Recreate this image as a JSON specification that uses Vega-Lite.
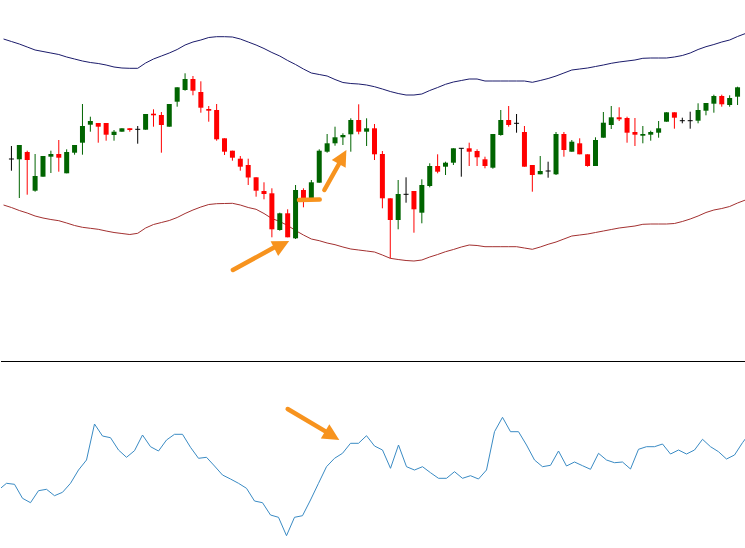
{
  "$schema": "https://vega.github.io/schema/vega-lite/v6.json",
  "padding": 0,
  "spacing": 0,
  "background": "white",
  "config": {"view": {"stroke": null}, "axis": {"disable": true}, "legend": {"disable": true}},
  "datasets": {
    "candles": [
      {"i":0,"open":1.3841,"high":1.3854,"low":1.38293,"close":1.3841},
      {"i":1,"open":1.38407,"high":1.3855,"low":1.3802,"close":1.3855},
      {"i":2,"open":1.3848,"high":1.38493,"low":1.38053,"close":1.384},
      {"i":3,"open":1.38093,"high":1.3846,"low":1.38083,"close":1.3824},
      {"i":4,"open":1.38233,"high":1.3844,"low":1.38233,"close":1.3844},
      {"i":5,"open":1.38433,"high":1.38493,"low":1.3827,"close":1.3846},
      {"i":6,"open":1.3846,"high":1.386,"low":1.38283,"close":1.38423},
      {"i":7,"open":1.38267,"high":1.38507,"low":1.38267,"close":1.3848},
      {"i":8,"open":1.38473,"high":1.3855,"low":1.38453,"close":1.3855},
      {"i":9,"open":1.38573,"high":1.3896,"low":1.38453,"close":1.3874},
      {"i":10,"open":1.38753,"high":1.38833,"low":1.38683,"close":1.3879},
      {"i":11,"open":1.3877,"high":1.3877,"low":1.38573,"close":1.38733},
      {"i":12,"open":1.3877,"high":1.3877,"low":1.38593,"close":1.38653},
      {"i":13,"open":1.3865,"high":1.387,"low":1.38593,"close":1.38683},
      {"i":14,"open":1.38683,"high":1.38717,"low":1.38683,"close":1.38717},
      {"i":15,"open":1.38717,"high":1.38717,"low":1.38683,"close":1.387},
      {"i":16,"open":1.38707,"high":1.3874,"low":1.38563,"close":1.38707},
      {"i":17,"open":1.38703,"high":1.3886,"low":1.38703,"close":1.3886},
      {"i":18,"open":1.38863,"high":1.38907,"low":1.38733,"close":1.38847},
      {"i":19,"open":1.3885,"high":1.3888,"low":1.38473,"close":1.3875},
      {"i":20,"open":1.38733,"high":1.3896,"low":1.38733,"close":1.3896},
      {"i":21,"open":1.38983,"high":1.39127,"low":1.38933,"close":1.39127},
      {"i":22,"open":1.391,"high":1.39267,"low":1.39093,"close":1.3921},
      {"i":23,"open":1.3921,"high":1.3924,"low":1.39047,"close":1.39093},
      {"i":24,"open":1.3908,"high":1.39187,"low":1.38873,"close":1.38923},
      {"i":25,"open":1.3891,"high":1.3894,"low":1.38783,"close":1.38893},
      {"i":26,"open":1.389,"high":1.3896,"low":1.38593,"close":1.38607},
      {"i":27,"open":1.38617,"high":1.38617,"low":1.3845,"close":1.38483},
      {"i":28,"open":1.38493,"high":1.38493,"low":1.38393,"close":1.38423},
      {"i":29,"open":1.38413,"high":1.3844,"low":1.38293,"close":1.38333},
      {"i":30,"open":1.3835,"high":1.38413,"low":1.3815,"close":1.38225},
      {"i":31,"open":1.38227,"high":1.38227,"low":1.38033,"close":1.38093},
      {"i":32,"open":1.3809,"high":1.38177,"low":1.38007,"close":1.3806},
      {"i":33,"open":1.38067,"high":1.38117,"low":1.37627,"close":1.37707},
      {"i":34,"open":1.377,"high":1.37873,"low":1.37693,"close":1.37867},
      {"i":35,"open":1.37867,"high":1.37907,"low":1.37627,"close":1.37627},
      {"i":36,"open":1.37617,"high":1.3815,"low":1.3761,"close":1.381},
      {"i":37,"open":1.381,"high":1.38117,"low":1.37927,"close":1.38017},
      {"i":38,"open":1.38017,"high":1.382,"low":1.38017,"close":1.38177},
      {"i":39,"open":1.38173,"high":1.38507,"low":1.38173,"close":1.38493},
      {"i":40,"open":1.38483,"high":1.3866,"low":1.38473,"close":1.38567},
      {"i":41,"open":1.38567,"high":1.38733,"low":1.38543,"close":1.38627},
      {"i":42,"open":1.38627,"high":1.38667,"low":1.3855,"close":1.3865},
      {"i":43,"open":1.38657,"high":1.38817,"low":1.38483,"close":1.388},
      {"i":44,"open":1.388,"high":1.38957,"low":1.38657,"close":1.38683},
      {"i":45,"open":1.38683,"high":1.38817,"low":1.3854,"close":1.38717},
      {"i":46,"open":1.38717,"high":1.3876,"low":1.384,"close":1.38457},
      {"i":47,"open":1.3846,"high":1.3849,"low":1.37917,"close":1.38017},
      {"i":48,"open":1.38017,"high":1.38017,"low":1.37417,"close":1.378},
      {"i":49,"open":1.378,"high":1.382,"low":1.37707,"close":1.3806},
      {"i":50,"open":1.38057,"high":1.38227,"low":1.37973,"close":1.38057},
      {"i":51,"open":1.3809,"high":1.3809,"low":1.37673,"close":1.37907},
      {"i":52,"open":1.37873,"high":1.38207,"low":1.37767,"close":1.3815},
      {"i":53,"open":1.3814,"high":1.38367,"low":1.38127,"close":1.3834},
      {"i":54,"open":1.3834,"high":1.38457,"low":1.38267,"close":1.38283},
      {"i":55,"open":1.38333,"high":1.38383,"low":1.3825,"close":1.38373},
      {"i":56,"open":1.38373,"high":1.38517,"low":1.3835,"close":1.38517},
      {"i":57,"open":1.38517,"high":1.38517,"low":1.38233,"close":1.38517},
      {"i":58,"open":1.38517,"high":1.38573,"low":1.3834,"close":1.38483},
      {"i":59,"open":1.3849,"high":1.38507,"low":1.3834,"close":1.38427},
      {"i":60,"open":1.38407,"high":1.38433,"low":1.38317,"close":1.3834},
      {"i":61,"open":1.38323,"high":1.3866,"low":1.38313,"close":1.3866},
      {"i":62,"open":1.3865,"high":1.389,"low":1.38643,"close":1.388},
      {"i":63,"open":1.388,"high":1.3894,"low":1.38733,"close":1.3875},
      {"i":64,"open":1.38767,"high":1.3886,"low":1.38673,"close":1.38767},
      {"i":65,"open":1.3868,"high":1.3874,"low":1.38333,"close":1.38333},
      {"i":66,"open":1.3835,"high":1.3835,"low":1.38083,"close":1.3825},
      {"i":67,"open":1.38257,"high":1.3844,"low":1.38257,"close":1.3829},
      {"i":68,"open":1.3829,"high":1.38383,"low":1.38223,"close":1.3829},
      {"i":69,"open":1.38257,"high":1.3868,"low":1.3825,"close":1.3866},
      {"i":70,"open":1.3866,"high":1.3868,"low":1.38433,"close":1.385},
      {"i":71,"open":1.38483,"high":1.386,"low":1.38483,"close":1.38583},
      {"i":72,"open":1.38567,"high":1.38617,"low":1.38457,"close":1.38457},
      {"i":73,"open":1.38457,"high":1.38457,"low":1.38333,"close":1.3834},
      {"i":74,"open":1.3834,"high":1.38627,"low":1.3834,"close":1.386},
      {"i":75,"open":1.38623,"high":1.3888,"low":1.38623,"close":1.38773},
      {"i":76,"open":1.3875,"high":1.3894,"low":1.3871,"close":1.38827},
      {"i":77,"open":1.38827,"high":1.38927,"low":1.3879,"close":1.38807},
      {"i":78,"open":1.3882,"high":1.38833,"low":1.38573,"close":1.38673},
      {"i":79,"open":1.3868,"high":1.3882,"low":1.3854,"close":1.38653},
      {"i":80,"open":1.38643,"high":1.3874,"low":1.38567,"close":1.3866},
      {"i":81,"open":1.38653,"high":1.38693,"low":1.38593,"close":1.3868},
      {"i":82,"open":1.38673,"high":1.3879,"low":1.38623,"close":1.38717},
      {"i":83,"open":1.38783,"high":1.38877,"low":1.38783,"close":1.38877},
      {"i":84,"open":1.38877,"high":1.38877,"low":1.38713,"close":1.38823},
      {"i":85,"open":1.38793,"high":1.38823,"low":1.38767,"close":1.38793},
      {"i":86,"open":1.38793,"high":1.38883,"low":1.38713,"close":1.38793},
      {"i":87,"open":1.38793,"high":1.38967,"low":1.38767,"close":1.389},
      {"i":88,"open":1.38893,"high":1.3897,"low":1.38847,"close":1.3897},
      {"i":89,"open":1.38963,"high":1.39053,"low":1.38873,"close":1.3904},
      {"i":90,"open":1.3904,"high":1.39053,"low":1.38933,"close":1.38957},
      {"i":91,"open":1.3895,"high":1.39047,"low":1.38933,"close":1.3902},
      {"i":92,"open":1.39033,"high":1.39133,"low":1.3895,"close":1.39127}
    ],
    "bands": [
      {"i":-1,"upper":1.3961,"lower":1.3795},
      {"i":0,"upper":1.39585,"lower":1.37925},
      {"i":1,"upper":1.3956,"lower":1.37895},
      {"i":2,"upper":1.3953,"lower":1.3787},
      {"i":3,"upper":1.395,"lower":1.3784},
      {"i":4,"upper":1.39485,"lower":1.3782},
      {"i":5,"upper":1.3947,"lower":1.37805},
      {"i":6,"upper":1.39455,"lower":1.37793},
      {"i":7,"upper":1.3943,"lower":1.3777},
      {"i":8,"upper":1.3941,"lower":1.37745},
      {"i":9,"upper":1.3939,"lower":1.37727},
      {"i":10,"upper":1.39375,"lower":1.37717},
      {"i":11,"upper":1.39365,"lower":1.37707},
      {"i":12,"upper":1.3935,"lower":1.3769},
      {"i":13,"upper":1.3933,"lower":1.37675},
      {"i":14,"upper":1.3932,"lower":1.37665},
      {"i":15,"upper":1.39317,"lower":1.37655},
      {"i":16,"upper":1.39317,"lower":1.37667},
      {"i":17,"upper":1.3937,"lower":1.3772},
      {"i":18,"upper":1.3941,"lower":1.37755},
      {"i":19,"upper":1.3944,"lower":1.37775},
      {"i":20,"upper":1.3947,"lower":1.37795},
      {"i":21,"upper":1.39505,"lower":1.37825},
      {"i":22,"upper":1.3955,"lower":1.37865},
      {"i":23,"upper":1.3958,"lower":1.379},
      {"i":24,"upper":1.396,"lower":1.3793},
      {"i":25,"upper":1.39625,"lower":1.37955},
      {"i":26,"upper":1.39633,"lower":1.37963},
      {"i":27,"upper":1.39633,"lower":1.37965},
      {"i":28,"upper":1.3963,"lower":1.37967},
      {"i":29,"upper":1.3961,"lower":1.3795},
      {"i":30,"upper":1.3958,"lower":1.37925},
      {"i":31,"upper":1.3955,"lower":1.37907},
      {"i":32,"upper":1.39515,"lower":1.37865},
      {"i":33,"upper":1.39475,"lower":1.37815},
      {"i":34,"upper":1.3944,"lower":1.37785},
      {"i":35,"upper":1.39395,"lower":1.37745},
      {"i":36,"upper":1.39355,"lower":1.37695},
      {"i":37,"upper":1.3931,"lower":1.3765},
      {"i":38,"upper":1.3927,"lower":1.3761},
      {"i":39,"upper":1.39255,"lower":1.37593},
      {"i":40,"upper":1.3924,"lower":1.3757},
      {"i":41,"upper":1.39205,"lower":1.37553},
      {"i":42,"upper":1.39175,"lower":1.3753},
      {"i":43,"upper":1.39165,"lower":1.3751},
      {"i":44,"upper":1.3916,"lower":1.375},
      {"i":45,"upper":1.3915,"lower":1.3749},
      {"i":46,"upper":1.39133,"lower":1.3748},
      {"i":47,"upper":1.3911,"lower":1.3745},
      {"i":48,"upper":1.39085,"lower":1.37417},
      {"i":49,"upper":1.39065,"lower":1.37405},
      {"i":50,"upper":1.3905,"lower":1.37395},
      {"i":51,"upper":1.3905,"lower":1.3739},
      {"i":52,"upper":1.3906,"lower":1.374},
      {"i":53,"upper":1.39095,"lower":1.3743},
      {"i":54,"upper":1.39125,"lower":1.37455},
      {"i":55,"upper":1.39157,"lower":1.37483},
      {"i":56,"upper":1.3918,"lower":1.37505},
      {"i":57,"upper":1.39195,"lower":1.3753},
      {"i":58,"upper":1.3921,"lower":1.3755},
      {"i":59,"upper":1.3921,"lower":1.37545},
      {"i":60,"upper":1.3919,"lower":1.37533},
      {"i":61,"upper":1.3919,"lower":1.37533},
      {"i":62,"upper":1.3919,"lower":1.37533},
      {"i":63,"upper":1.3919,"lower":1.37533},
      {"i":64,"upper":1.3919,"lower":1.37533},
      {"i":65,"upper":1.3919,"lower":1.3752},
      {"i":66,"upper":1.39177,"lower":1.37507},
      {"i":67,"upper":1.39195,"lower":1.3753},
      {"i":68,"upper":1.39215,"lower":1.37557},
      {"i":69,"upper":1.3924,"lower":1.3758},
      {"i":70,"upper":1.3927,"lower":1.3761},
      {"i":71,"upper":1.393,"lower":1.3764},
      {"i":72,"upper":1.3931,"lower":1.3765},
      {"i":73,"upper":1.3932,"lower":1.3766},
      {"i":74,"upper":1.39335,"lower":1.37675},
      {"i":75,"upper":1.3935,"lower":1.3769},
      {"i":76,"upper":1.39367,"lower":1.37705},
      {"i":77,"upper":1.3938,"lower":1.3772},
      {"i":78,"upper":1.3939,"lower":1.3773},
      {"i":79,"upper":1.394,"lower":1.3774},
      {"i":80,"upper":1.39417,"lower":1.37757},
      {"i":81,"upper":1.3942,"lower":1.3776},
      {"i":82,"upper":1.3942,"lower":1.3776},
      {"i":83,"upper":1.3942,"lower":1.3776},
      {"i":84,"upper":1.3943,"lower":1.37765},
      {"i":85,"upper":1.39445,"lower":1.37785},
      {"i":86,"upper":1.3947,"lower":1.3781},
      {"i":87,"upper":1.39505,"lower":1.3784},
      {"i":88,"upper":1.39533,"lower":1.37875},
      {"i":89,"upper":1.39555,"lower":1.379},
      {"i":90,"upper":1.3958,"lower":1.37915},
      {"i":91,"upper":1.396,"lower":1.37935},
      {"i":92,"upper":1.39635,"lower":1.3797},
      {"i":93,"upper":1.39665,"lower":1.38}
    ],
    "osc": [
      {"i":-1,"value":29},{"i":0,"value":32.35},{"i":1,"value":31.85},{"i":2,"value":24.85},
      {"i":3,"value":22.65},{"i":4,"value":28.65},{"i":5,"value":29.35},{"i":6,"value":26.15},
      {"i":7,"value":27.85},{"i":8,"value":32.35},{"i":9,"value":39},{"i":10,"value":44},
      {"i":11,"value":62},{"i":12,"value":56},{"i":13,"value":55.15},{"i":14,"value":49},
      {"i":15,"value":45.35},{"i":16,"value":48.65},{"i":17,"value":56.5},{"i":18,"value":50.65},
      {"i":19,"value":48.5},{"i":20,"value":54},{"i":21,"value":56.85},{"i":22,"value":56.85},
      {"i":23,"value":50.35},{"i":24,"value":44.85},{"i":25,"value":45.35},{"i":26,"value":41},
      {"i":27,"value":36.5},{"i":28,"value":34.5},{"i":29,"value":32.35},{"i":30,"value":29.85},
      {"i":31,"value":23.5},{"i":32,"value":22.65},{"i":33,"value":16.5},{"i":34,"value":15.35},
      {"i":35,"value":6.15},{"i":36,"value":15.35},{"i":37,"value":16.15},{"i":38,"value":24},
      {"i":39,"value":32.35},{"i":40,"value":40.65},{"i":41,"value":44.85},{"i":42,"value":47.35},
      {"i":43,"value":52.35},{"i":44,"value":52.35},{"i":45,"value":56.15},{"i":46,"value":51},
      {"i":47,"value":49},{"i":48,"value":39.85},{"i":49,"value":51.5},{"i":50,"value":40.65},
      {"i":51,"value":39},{"i":52,"value":40.65},{"i":53,"value":37.65},{"i":54,"value":34.85},
      {"i":55,"value":34.85},{"i":56,"value":38.15},{"i":57,"value":34.85},{"i":58,"value":36.15},
      {"i":59,"value":34.5},{"i":60,"value":39},{"i":61,"value":58.15},{"i":62,"value":65.35},
      {"i":63,"value":58.15},{"i":64,"value":58.15},{"i":65,"value":51.5},{"i":66,"value":44},
      {"i":67,"value":40.65},{"i":68,"value":41.35},{"i":69,"value":48.5},{"i":70,"value":41},
      {"i":71,"value":43},{"i":72,"value":41.15},{"i":73,"value":39.35},{"i":74,"value":47.35},
      {"i":75,"value":44},{"i":76,"value":42.65},{"i":77,"value":43},{"i":78,"value":39.5},
      {"i":79,"value":49.35},{"i":80,"value":50.65},{"i":81,"value":50.65},{"i":82,"value":52},
      {"i":83,"value":47},{"i":84,"value":49},{"i":85,"value":47},{"i":86,"value":49},
      {"i":87,"value":54.35},{"i":88,"value":50.65},{"i":89,"value":48.15},{"i":90,"value":44.5},
      {"i":91,"value":46.5},{"i":92,"value":52.65},{"i":93,"value":58}
    ],
    "shafts": [
      {"id":"a1","panel":"top","x":28.06,"y":1.373,"x2":33.9,"y2":1.37552},
      {"id":"a2","panel":"top","x":39.06,"y":1.38005,"x2":36.44,"y2":1.38},
      {"id":"a3","panel":"top","x":39.65,"y":1.381,"x2":41.82,"y2":1.38405},
      {"id":"a4","panel":"bottom","x":35.15,"y":69.5,"x2":40.5,"y2":56.8}
    ],
    "heads": [
      {"id":"a1","x":35.19,"y":1.3759},
      {"id":"a3","x":42.44,"y":1.385},
      {"id":"a4","x":41.6,"y":54}
    ],
    "separator": [
      {"level": 93.25}
    ]
  },
  "vconcat": [
    {
      "width": 745,
      "height": 361,
      "layer": [
        {
          "data": {"name": "bands"},
          "mark": {"type": "line", "clip": true, "color": "#1b1b6b", "strokeWidth": 1},
          "encoding": {
            "x": {"field": "i", "type": "quantitative", "scale": {"domain": [-0.6875, 92.4375], "nice": false, "zero": false}},
            "y": {"field": "upper", "type": "quantitative", "scale": {"domain": [1.3639, 1.4], "nice": false, "zero": false}}
          }
        },
        {
          "data": {"name": "bands"},
          "mark": {"type": "line", "clip": true, "color": "#a33030", "strokeWidth": 1},
          "encoding": {
            "x": {"field": "i", "type": "quantitative"},
            "y": {"field": "lower", "type": "quantitative"}
          }
        },
        {
          "data": {"name": "candles"},
          "mark": {"type": "rule", "strokeWidth": 1},
          "encoding": {
            "x": {"field": "i", "type": "quantitative"},
            "y": {"field": "low", "type": "quantitative"},
            "y2": {"field": "high"},
            "color": {"condition": [{"test": "datum.close > datum.open", "value": "#006400"}, {"test": "datum.close < datum.open", "value": "#ff0000"}], "value": "#000000"}
          }
        },
        {
          "data": {"name": "candles"},
          "transform": [{"filter": "datum.open != datum.close"}],
          "mark": {"type": "bar", "width": 5},
          "encoding": {
            "x": {"field": "i", "type": "quantitative"},
            "y": {"field": "open", "type": "quantitative"},
            "y2": {"field": "close"},
            "color": {"condition": [{"test": "datum.close > datum.open", "value": "#006400"}], "value": "#ff0000"}
          }
        },
        {
          "data": {"name": "candles"},
          "transform": [{"filter": "datum.open == datum.close"}],
          "mark": {"type": "tick", "orient": "horizontal", "size": 5, "thickness": 1, "color": "#000000", "opacity": 1},
          "encoding": {
            "x": {"field": "i", "type": "quantitative"},
            "y": {"field": "open", "type": "quantitative"}
          }
        },
        {
          "data": {"name": "shafts"},
          "transform": [{"filter": "datum.panel == 'top'"}],
          "mark": {"type": "rule", "color": "#f7931e", "strokeWidth": 4.5, "strokeCap": "round"},
          "encoding": {
            "x": {"field": "x", "type": "quantitative"},
            "y": {"field": "y", "type": "quantitative"},
            "x2": {"field": "x2"},
            "y2": {"field": "y2"}
          }
        },
        {
          "data": {"name": "heads"},
          "transform": [{"filter": "datum.id == 'a1'"}],
          "mark": {"type": "point", "shape": "M0,0L-1,-0.5L-1,0.5Z", "angle": 333, "filled": true, "size": 1100, "color": "#f7931e", "opacity": 1},
          "encoding": {
            "x": {"field": "x", "type": "quantitative"},
            "y": {"field": "y", "type": "quantitative"}
          }
        },
        {
          "data": {"name": "heads"},
          "transform": [{"filter": "datum.id == 'a3'"}],
          "mark": {"type": "point", "shape": "M0,0L-1,-0.5L-1,0.5Z", "angle": 299, "filled": true, "size": 1000, "color": "#f7931e", "opacity": 1},
          "encoding": {
            "x": {"field": "x", "type": "quantitative"},
            "y": {"field": "y", "type": "quantitative"}
          }
        }
      ]
    },
    {
      "width": 745,
      "height": 187,
      "layer": [
        {
          "data": {"name": "separator"},
          "mark": {"type": "rule", "color": "#000000", "strokeWidth": 1},
          "encoding": {
            "y": {"field": "level", "type": "quantitative", "scale": {"domain": [0, 93.5], "nice": false, "zero": false}}
          }
        },
        {
          "data": {"name": "osc"},
          "mark": {"type": "line", "clip": true, "color": "#3a8bc4", "strokeWidth": 1},
          "encoding": {
            "x": {"field": "i", "type": "quantitative", "scale": {"domain": [-0.6875, 92.4375], "nice": false, "zero": false}},
            "y": {"field": "value", "type": "quantitative"}
          }
        },
        {
          "data": {"name": "shafts"},
          "transform": [{"filter": "datum.panel == 'bottom'"}],
          "mark": {"type": "rule", "color": "#f7931e", "strokeWidth": 4.5, "strokeCap": "round"},
          "encoding": {
            "x": {"field": "x", "type": "quantitative"},
            "y": {"field": "y", "type": "quantitative"},
            "x2": {"field": "x2"},
            "y2": {"field": "y2"}
          }
        },
        {
          "data": {"name": "heads"},
          "transform": [{"filter": "datum.id == 'a4'"}],
          "mark": {"type": "point", "shape": "M0,0L-1,-0.5L-1,0.5Z", "angle": 31, "filled": true, "size": 1100, "color": "#f7931e", "opacity": 1},
          "encoding": {
            "x": {"field": "x", "type": "quantitative"},
            "y": {"field": "y", "type": "quantitative"}
          }
        }
      ]
    }
  ]
}
